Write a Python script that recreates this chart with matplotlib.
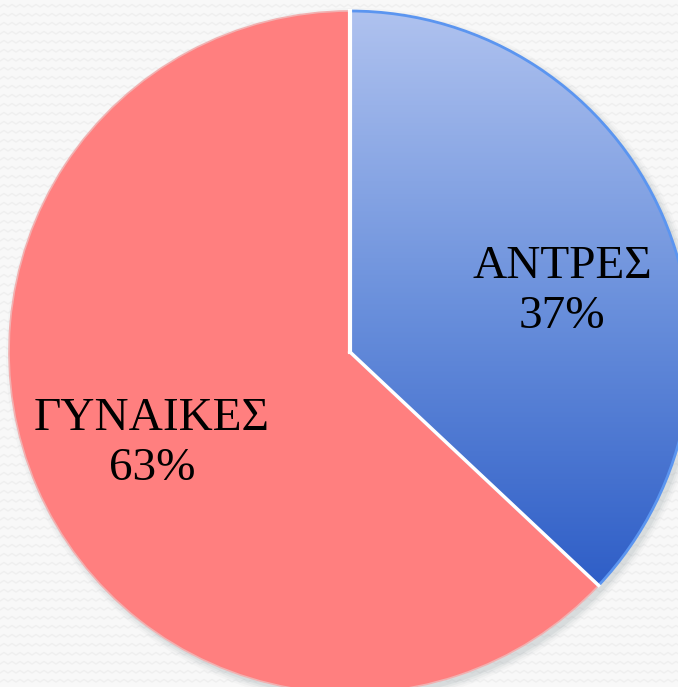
import numpy as np
import matplotlib.pyplot as plt
from matplotlib.colors import LinearSegmentedColormap

# survey split by gender
labels = ['ΑΝΤΡΕΣ', 'ΓΥΝΑΙΚΕΣ']
shares = [37, 63]

W, H = 678, 687
cx, cy, r = 350, H - 352, 341

fig = plt.figure(figsize=(W / 100, H / 100), dpi=100)
ax = fig.add_axes([0, 0, 1, 1])
fig.patch.set_facecolor('#f8f8f8')

# faint zigzag background texture
zx = np.arange(0, W + 8, 4)
for y0 in np.arange(-4, H + 8, 9):
    zy = y0 + np.where((zx // 4) % 2 == 0, 0, 2.5)
    ax.plot(zx, zy, color='#efefef', lw=1.0, zorder=0)

# soft drop shadow
for i, a in enumerate([0.04, 0.05, 0.07, 0.1]):
    ax.add_patch(plt.Circle((cx + 4, cy - 4), r + 7 - 2 * i, color='#7a8a90',
                            alpha=a, lw=0, zorder=1))

wedges, _ = ax.pie(shares, center=(cx, cy), radius=r, startangle=90,
                   counterclock=False, colors=['#6a90dc', '#ff7f7f'],
                   wedgeprops=dict(linewidth=0), frame=True)
ax.set_xlim(0, W)
ax.set_ylim(0, H)
ax.set_aspect('equal')
ax.axis('off')
for w in wedges:
    w.set_zorder(2)
wedges[1].set_edgecolor('#f2b0b0')
wedges[1].set_linewidth(1.2)

# vertical gradient for the blue slice
blue = wedges[0]
cmap = LinearSegmentedColormap.from_list('bl', ['#afc2ef', '#6a90dc', '#2c5cc6'])
grad = np.linspace(0, 1, 256).reshape(-1, 1)
im = ax.imshow(grad, cmap=cmap, extent=[cx, cx + r, cy - r * 0.72, cy + r],
               origin='upper', aspect='auto', zorder=3)
im.set_clip_path(blue)
blue.set_facecolor('none')
blue.set_edgecolor('#5b95f0')
blue.set_linewidth(2)
blue.set_zorder(4)

# white separators between the slices
ang = np.deg2rad(90 - 360 * shares[0] / 100)
ax.plot([cx, cx], [cy, cy + r], color='white', lw=3, zorder=5)
ax.plot([cx, cx + r * np.cos(ang)], [cy, cy + r * np.sin(ang)],
        color='white', lw=2.5, zorder=5)

font = dict(family='Liberation Serif', fontsize=34, color='black',
            ha='center', va='center', linespacing=1.22, zorder=6)
ax.text(562, H - 292, f'{labels[0]}\n{shares[0]}%', **font)
ax.text(152, H - 444, f'{labels[1]}\n{shares[1]}%', **font)

fig.savefig('out.png', dpi=100, facecolor=fig.get_facecolor())
